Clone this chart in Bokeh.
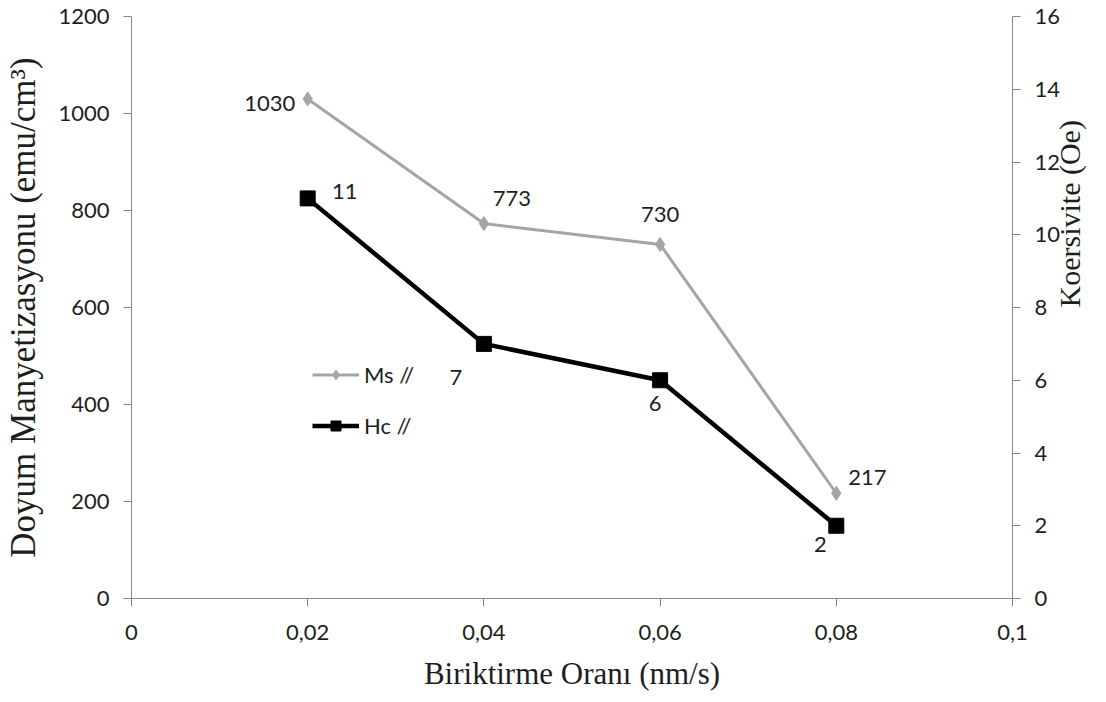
import math
from bokeh.plotting import figure
from bokeh.models import (Range1d, LinearAxis, FixedTicker, ColumnDataSource,
                          Legend, LegendItem)
from bokeh.embed import file_html
from bokeh.resources import INLINE
from bokeh.core.properties import value

# ---- data ----
rate = [0.02, 0.04, 0.06, 0.08]
ms = [1030, 773, 730, 217]
hc = [11, 7, 6, 2]
ms_labels = ["1030", "773", "730", "217"]
hc_labels = ["11", "7", "6", "2"]
x_ticks = [0, 0.02, 0.04, 0.06, 0.08, 0.1]
x_tick_labels = ["0", "0,02", "0,04", "0,06", "0,08", "0,1"]
left_ticks = [0, 200, 400, 600, 800, 1000, 1200]
right_ticks = [0, 2, 4, 6, 8, 10, 12, 14, 16]

# ---- label placement (screen px) ----
ms_dx = [-38, 28, 0, 31]
ms_dy = [5, -25, -30, -16]
hc_dx = [37, -28, -5, -16]
hc_dy = [-7, 34, 23, 19]

SANS = "Lato"
SERIF = "Liberation Serif"
AXIS_COL = "#868686"
TXT_COL = "#1e1e1e"
MS_COL = "#a5a5a5"

p = figure(width=1106, height=700, x_range=Range1d(0, 0.1), y_range=Range1d(0, 1200),
           output_backend="svg", toolbar_location=None,
           min_border_left=131, min_border_right=94, min_border_top=16, min_border_bottom=102)
p.extra_y_ranges = {"hc": Range1d(0, 16)}
p.outline_line_color = None
p.xgrid.visible = False
p.ygrid.visible = False
p.background_fill_color = "white"

def style_axis(ax, ticks):
    ax.ticker = FixedTicker(ticks=ticks)
    ax.axis_line_color = AXIS_COL
    ax.major_tick_line_color = AXIS_COL
    ax.major_tick_in = 0
    ax.major_tick_out = 8
    ax.minor_tick_line_color = None
    ax.major_label_text_font = SANS
    ax.major_label_text_font_size = "22px"
    ax.major_label_text_color = TXT_COL
    ax.axis_label_text_font = SERIF
    ax.axis_label_text_font_style = "normal"
    ax.axis_label_text_color = TXT_COL

xa = p.xaxis[0]
style_axis(xa, x_ticks)
xa.major_label_overrides = {t: s for t, s in zip(x_ticks, x_tick_labels)}
xa.major_label_standoff = 18
xa.axis_label = "Biriktirme Oranı (nm/s)"
xa.axis_label_text_font_size = "31px"
xa.axis_label_standoff = 13

ya = p.yaxis[0]
style_axis(ya, left_ticks)
ya.major_label_standoff = 14
ya.axis_label = "Doyum Manyetizasyonu (emu/cm³)"
ya.axis_label_text_font_size = "35px"
ya.axis_label_standoff = 12

ra = LinearAxis(y_range_name="hc")
style_axis(ra, right_ticks)
ra.major_label_standoff = 14
ra.axis_label = "Koersivite (Oe)"
ra.axis_label_text_font_size = "30px"
ra.axis_label_standoff = 6
if "axis_label_orientation" in ra.properties():
    ra.axis_label_orientation = math.pi / 2
p.add_layout(ra, "right")

ms_src = ColumnDataSource(dict(x=rate, y=ms, t=ms_labels, dx=ms_dx, dy=ms_dy))
hc_src = ColumnDataSource(dict(x=rate, y=hc, t=hc_labels, dx=hc_dx, dy=hc_dy))

ms_line = p.line("x", "y", source=ms_src, line_color=MS_COL, line_width=3)
ms_pts = p.scatter("x", "y", source=ms_src, marker="diamond", size=14,
                   fill_color=MS_COL, line_color=MS_COL)
hc_line = p.line("x", "y", source=hc_src, y_range_name="hc", line_color="black", line_width=4.5)
hc_pts = p.scatter("x", "y", source=hc_src, y_range_name="hc", marker="square", size=15,
                   fill_color="black", line_color="black")

p.text("x", "y", text="t", source=ms_src, x_offset="dx", y_offset="dy",
       text_align="center", text_baseline="middle", text_font=value(SANS),
       text_font_size="22px", text_color=TXT_COL)
p.text("x", "y", text="t", source=hc_src, y_range_name="hc", x_offset="dx", y_offset="dy",
       text_align="center", text_baseline="middle", text_font=value(SANS),
       text_font_size="22px", text_color=TXT_COL)

legend = Legend(items=[LegendItem(label="Ms //", renderers=[ms_line, ms_pts]),
                       LegendItem(label="Hc //", renderers=[hc_line, hc_pts])],
                location=(181, 159), padding=0, margin=0, border_line_color=None,
                background_fill_alpha=0, glyph_width=47, glyph_height=25, spacing=24,
                label_standoff=5, label_text_font=SANS, label_text_font_size="22px",
                label_text_color=TXT_COL)
p.add_layout(legend)

open("out.html", "w").write(file_html(p, INLINE))
